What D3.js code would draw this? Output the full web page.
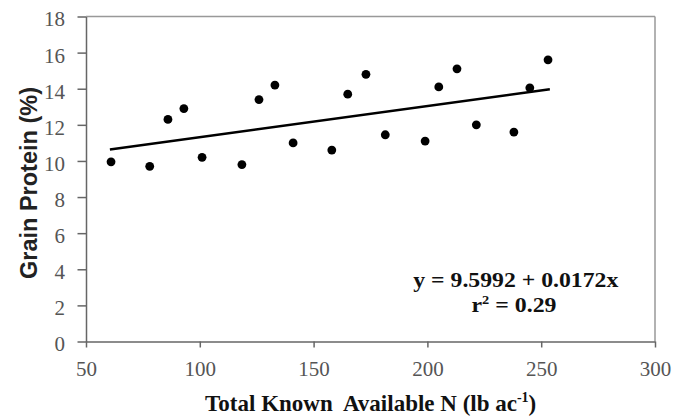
<!DOCTYPE html>
<html><head><meta charset="utf-8">
<script src="https://cdn.jsdelivr.net/npm/d3@7"></script>
<style>body{margin:0;background:#fff}svg{display:block}</style>
</head><body>
<svg id="c" width="673" height="418"></svg>
<script>
const nValues = [61, 78, 86, 93, 101, 118.5, 126, 133, 141, 158, 165, 173, 181.5, 199, 205, 213, 221.5, 238, 245, 253];
const proteinValues = [9.95, 9.7, 12.3, 12.9, 10.2, 9.8, 13.4, 14.2, 11.0, 10.6, 13.7, 14.8, 11.45, 11.1, 14.1, 15.1, 12.0, 11.6, 14.05, 15.6];
const xTicks = [50, 100, 150, 200, 250, 300];
const yTicks = [0, 2, 4, 6, 8, 10, 12, 14, 16, 18];
const intercept = 9.5992, slope = 0.0172;
const eqLines = ["y = 9.5992 + 0.0172x", "r² = 0.29"];

const svg = d3.select("#c");
const L = 86, R = 655, T = 16.5, B = 341.5;
const x = d3.scaleLinear().domain([50, 300]).range([L, R]);
const y = d3.scaleLinear().domain([0, 18]).range([B, T]);
const axisCol = "#666";
const serif = "'Liberation Serif','Times New Roman',serif";
const sans = "'Liberation Sans',Arial,sans-serif";

// frame top & right
svg.append("line").attr("x1", L).attr("x2", R).attr("y1", T).attr("y2", T).attr("stroke", "#999").attr("stroke-width", 1.5);
svg.append("line").attr("x1", R).attr("x2", R).attr("y1", T).attr("y2", B).attr("stroke", "#999").attr("stroke-width", 1.5);

const xa = svg.append("g").attr("transform", `translate(0,${B})`)
  .call(d3.axisBottom(x).tickValues(xTicks).tickSize(6).tickSizeOuter(0).tickPadding(14));
const ya = svg.append("g").attr("transform", `translate(${L},0)`)
  .call(d3.axisLeft(y).tickValues(yTicks).tickSize(8.5).tickSizeOuter(0).tickPadding(12.5));
[xa, ya].forEach(g => {
  g.select(".domain").attr("stroke", axisCol).attr("stroke-width", 1.5);
  g.selectAll(".tick line").attr("stroke", axisCol).attr("stroke-width", 1.5);
  g.selectAll(".tick text").attr("fill", "#555").style("font-family", serif).style("font-size", "21px");
});
ya.selectAll(".tick text").attr("dy", "0.45em");

// regression line
const xmin = d3.min(nValues), xmax = d3.max(nValues);
svg.append("line")
  .attr("x1", x(xmin - 0.5)).attr("y1", y(intercept + slope * (xmin - 0.5)))
  .attr("x2", x(xmax + 0.8)).attr("y2", y(intercept + slope * (xmax + 0.8)))
  .attr("stroke", "#000").attr("stroke-width", 2.5);

// points
svg.append("g").selectAll("circle").data(nValues).join("circle")
  .attr("cx", d => x(d)).attr("cy", (d, i) => y(proteinValues[i])).attr("r", 4.4).attr("fill", "#000");

// equation
svg.append("text").attr("x", 515.8).attr("y", 286.7).attr("text-anchor", "middle")
  .attr("textLength", 205).attr("lengthAdjust", "spacingAndGlyphs")
  .style("font-family", serif).style("font-weight", "bold").style("font-size", "21.5px").attr("fill", "#111")
  .text(eqLines[0]);
const t2 = svg.append("text").attr("x", 514).attr("y", 312).attr("text-anchor", "middle")
  .attr("textLength", 85).attr("lengthAdjust", "spacingAndGlyphs")
  .style("font-family", serif).style("font-weight", "bold").style("font-size", "21.5px").attr("fill", "#111");
t2.append("tspan").text("r");
t2.append("tspan").attr("dy", -8).style("font-size", "13px").text("2");
t2.append("tspan").attr("dy", 8).text(" = 0.29");

// axis titles
svg.append("text").attr("transform", `translate(36.5,183) rotate(-90)`)
  .attr("text-anchor", "middle").style("font-family", sans).style("font-weight", "bold").style("font-size", "23.5px")
  .attr("fill", "#222").text("Grain Protein (%)");
const xt = svg.append("text").attr("x", 370.7).attr("y", 411).attr("text-anchor", "middle")
  .style("white-space", "pre")
  .style("font-family", serif).style("font-weight", "bold").style("font-size", "23px").attr("fill", "#111");
xt.append("tspan").text("Total Known  Available N (lb ac");
xt.append("tspan").attr("dy", -9).style("font-size", "14px").text("-1");
xt.append("tspan").attr("dy", 9).text(")");
</script>
</body></html>
